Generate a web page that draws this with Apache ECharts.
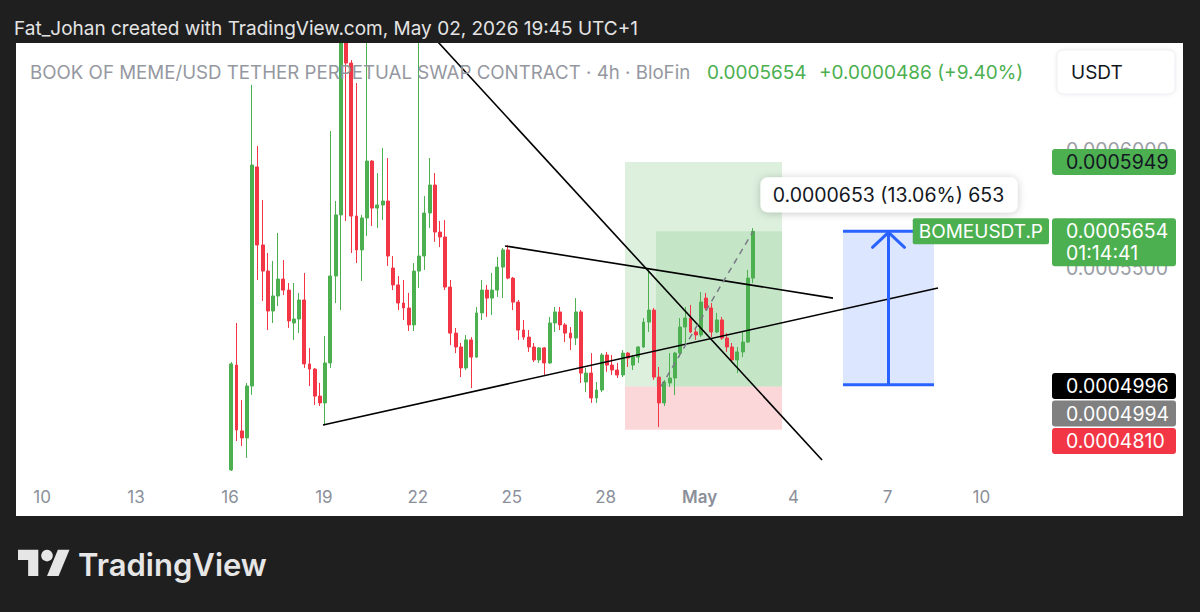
<!DOCTYPE html>
<html>
<head>
<meta charset="utf-8">
<script src="https://cdn.jsdelivr.net/npm/echarts@6/dist/echarts.min.js"></script>
<style>html,body{margin:0;padding:0;background:#1f1f1f;}#c{width:1200px;height:612px;}</style>
</head>
<body>
<div id="c"></div>
<script>
// ===== DATA =====
// x values are "day of April" (May 1 = 31); 4h bars, first bar opens Apr 16 01:00 (UTC+1)
const startDay = 16 + 1 / 24;
const barDays = 1 / 6;
const opens = [4639e-7,5085e-7,4805e-7,4775e-7,4996e-7,5928e-7,5596e-7,5485e-7,5315e-7,5379e-7,
  5451e-7,5404e-7,5264e-7,5281e-7,5362e-7,5090e-7,5068e-7,4953e-7,4924e-7,5094e-7,
  5464e-7,5724e-7,6520e-7,6370e-7,5719e-7,5575e-7,5711e-7,5953e-7,5753e-7,5766e-7,
  5783e-7,5498e-7,5426e-7,5349e-7,5328e-7,5256e-7,5485e-7,5549e-7,5732e-7,5851e-7,
  5651e-7,5630e-7,5417e-7,5221e-7,5162e-7,5073e-7,5192e-7,5119e-7,5307e-7,5404e-7,
  5370e-7,5404e-7,5502e-7,5575e-7,5455e-7,5353e-7,5234e-7,5204e-7,5162e-7,5107e-7,
  5158e-7,5094e-7,5264e-7,5311e-7,5256e-7,5221e-7,5200e-7,5311e-7,5013e-7,5051e-7,
  4945e-7,4979e-7,5128e-7,5085e-7,5064e-7,5043e-7,5136e-7,5085e-7,5119e-7,5162e-7,
  5268e-7,5319e-7,5034e-7,4924e-7,5009e-7,5030e-7,5136e-7,5247e-7,5285e-7,5226e-7,
  5213e-7,5370e-7,5328e-7,5226e-7,5277e-7,5200e-7,5162e-7,5107e-7,5141e-7,5183e-7,
  5455e-7];
const closes = [5090e-7,4809e-7,4775e-7,4996e-7,5936e-7,5596e-7,5485e-7,5315e-7,5379e-7,5451e-7,
  5404e-7,5273e-7,5281e-7,5362e-7,5090e-7,5068e-7,4953e-7,4924e-7,5094e-7,5464e-7,
  5724e-7,6500e-7,6370e-7,5719e-7,5575e-7,5711e-7,5953e-7,5753e-7,5766e-7,5783e-7,
  5549e-7,5426e-7,5349e-7,5328e-7,5256e-7,5485e-7,5549e-7,5732e-7,5851e-7,5651e-7,
  5630e-7,5417e-7,5221e-7,5162e-7,5073e-7,5192e-7,5119e-7,5307e-7,5404e-7,5370e-7,
  5404e-7,5502e-7,5575e-7,5455e-7,5353e-7,5234e-7,5204e-7,5162e-7,5107e-7,5158e-7,
  5094e-7,5264e-7,5311e-7,5256e-7,5221e-7,5200e-7,5311e-7,5051e-7,5051e-7,4945e-7,
  4979e-7,5128e-7,5085e-7,5064e-7,5043e-7,5136e-7,5115e-7,5119e-7,5162e-7,5268e-7,
  5319e-7,5034e-7,4924e-7,5013e-7,5030e-7,5136e-7,5247e-7,5285e-7,5226e-7,5213e-7,
  5353e-7,5328e-7,5226e-7,5277e-7,5200e-7,5162e-7,5107e-7,5141e-7,5183e-7,5455e-7,
  5654e-7];
const lows = [4634e-7,4762e-7,4741e-7,4690e-7,4958e-7,5447e-7,5358e-7,5234e-7,5264e-7,5336e-7,
  5383e-7,5243e-7,5192e-7,5221e-7,5073e-7,4996e-7,4915e-7,4911e-7,4828e-7,5073e-7,
  5349e-7,5319e-7,5698e-7,5562e-7,5519e-7,5443e-7,5634e-7,5677e-7,5668e-7,5702e-7,
  5507e-7,5404e-7,5319e-7,5277e-7,5230e-7,5230e-7,5413e-7,5490e-7,5668e-7,5609e-7,
  5587e-7,5404e-7,5170e-7,5136e-7,5034e-7,5064e-7,4987e-7,5115e-7,5277e-7,5290e-7,
  5298e-7,5375e-7,5370e-7,5450e-7,5319e-7,5192e-7,5192e-7,5141e-7,5098e-7,5094e-7,
  5043e-7,5090e-7,5226e-7,5234e-7,5183e-7,5149e-7,5170e-7,5009e-7,4970e-7,4924e-7,
  4924e-7,4970e-7,5056e-7,5043e-7,5030e-7,5034e-7,5077e-7,5064e-7,5094e-7,5158e-7,
  5226e-7,5022e-7,4822e-7,4911e-7,4992e-7,4958e-7,5119e-7,5179e-7,5221e-7,5192e-7,
  5204e-7,5319e-7,5204e-7,5221e-7,5192e-7,5141e-7,5098e-7,5051e-7,5119e-7,5179e-7,
  5434e-7];
const highs = [5098e-7,5264e-7,4936e-7,5009e-7,6277e-7,6017e-7,5787e-7,5562e-7,5528e-7,5647e-7,
  5532e-7,5434e-7,5434e-7,5392e-7,5477e-7,5158e-7,5073e-7,5009e-7,5209e-7,6081e-7,
  5783e-7,6700e-7,6600e-7,6383e-7,6285e-7,5724e-7,6550e-7,5957e-7,5902e-7,6009e-7,
  5966e-7,5549e-7,5464e-7,5447e-7,5392e-7,5519e-7,6600e-7,5804e-7,5966e-7,5902e-7,
  5698e-7,5702e-7,5447e-7,5243e-7,5179e-7,5213e-7,5204e-7,5332e-7,5447e-7,5426e-7,
  5477e-7,5545e-7,5583e-7,5596e-7,5460e-7,5362e-7,5277e-7,5234e-7,5179e-7,5162e-7,
  5162e-7,5290e-7,5332e-7,5332e-7,5264e-7,5247e-7,5370e-7,5319e-7,5073e-7,5136e-7,
  5013e-7,5136e-7,5141e-7,5128e-7,5094e-7,5149e-7,5141e-7,5128e-7,5166e-7,5285e-7,
  5498e-7,5328e-7,5077e-7,5022e-7,5136e-7,5141e-7,5285e-7,5332e-7,5341e-7,5247e-7,
  5396e-7,5392e-7,5349e-7,5307e-7,5290e-7,5221e-7,5179e-7,5162e-7,5226e-7,5490e-7,
  5668e-7];

// time-axis tick labels
const xTickDays = [10, 13, 16, 19, 22, 25, 28, 31, 34, 37, 40];
const xTickLabels = ['10', '13', '16', '19', '22', '25', '28', 'May', '4', '7', '10'];
// price-axis tick labels
const yTickValues = [0.0005, 0.00055, 0.0006];

// prices
const lastPrice = 0.0005654;
const supportPrice = 0.0004996;
const entryPrice = 0.0004994;
const targetPrice = 0.0005949;
const stopPrice = 0.0004810;
const countdown = '01:14:41';
const symbolName = 'BOMEUSDT.P';
const changeText = '+0.0000486 (+9.40%)';

// drawings: [day, price]
const trendDown = [[22.29, 0.0006511], [34.91, 0.0004681]];
const trendUpper = [[24.785, 0.0005592], [35.26, 0.0005370]];
const trendLower = [[18.972, 0.0004830], [38.614, 0.0005413]];
const projection = [[29.767, 0.0004994], [32.708, 0.0005654]];
// long-position tool time span
const posStart = 28.617, posFill = 29.607, posEnd = 33.632;
// price-range tool
const rangeStart = 35.58, rangeEnd = 38.486;
const rangeLow = 0.0005001, rangeHigh = 0.0005654;

// ===== CHART =====
const FONT = 'Inter, "Noto Sans", "DejaVu Sans", sans-serif';
const GREEN = '#4caf50', RED = '#f23645', BLUE = '#2962ff';

const candleData = opens.map((o, i) => [startDay + i * barDays, o, closes[i], lows[i], highs[i]]);

// zones: [d0, p0, d1, p1]
const zones = [
  [posStart, entryPrice, posEnd, targetPrice],
  [posFill, entryPrice, posEnd, lastPrice],
  [posStart, stopPrice, posEnd, entryPrice],
  [rangeStart, rangeLow, rangeEnd, rangeHigh]
];
const zoneFills = ['rgba(76,175,80,0.19)', 'rgba(76,175,80,0.16)', 'rgba(242,54,69,0.2)', 'rgba(41,98,255,0.16)'];

function lineSeries(pts, style, z) {
  return {type: 'line', data: pts, symbol: 'none', silent: true, clip: true, z: z || 5,
    lineStyle: style, animation: false};
}
const rangeMid = (rangeStart + rangeEnd) / 2;

const option = {
  backgroundColor: '#1f1f1f',
  animation: false,
  grid: {left: 16, right: 150, top: 43, bottom: 130},
  xAxis: {
    type: 'value', min: 9.1664, max: 42.191,
    axisLine: {show: false}, axisTick: {show: false}, splitLine: {show: false},
    axisLabel: {
      customValues: xTickDays, margin: 6, color: '#8b8f99', fontSize: 17, fontFamily: FONT,
      formatter: v => {
        const k = xTickDays.indexOf(Math.round(v));
        const t = k >= 0 ? xTickLabels[k] : '';
        return t === 'May' ? '{m|May}' : t;
      },
      rich: {m: {fontWeight: 600, color: '#8b8f99', fontSize: 17, fontFamily: FONT}}
    }
  },
  yAxis: {
    type: 'value', position: 'right', min: 0.00045876, max: 0.00064553,
    axisLine: {show: false}, axisTick: {show: false}, splitLine: {show: false},
    axisLabel: {customValues: yTickValues, formatter: v => v.toFixed(7), color: '#9a9da5',
      fontSize: 19.5, fontFamily: FONT, margin: 16}
  },
  series: [
    {
      type: 'custom', z: 1, silent: true, clip: true,
      data: zones.map((zz, i) => zz.concat([i])),
      encode: {x: [0, 2], y: [1, 3]},
      renderItem: (params, api) => {
        const a = api.coord([api.value(0), api.value(1)]);
        const b = api.coord([api.value(2), api.value(3)]);
        return {type: 'rect', shape: {x: Math.min(a[0], b[0]), y: Math.min(a[1], b[1]),
          width: Math.abs(b[0] - a[0]), height: Math.abs(b[1] - a[1])},
          style: {fill: zoneFills[api.value(4)]}};
      }
    },
    {
      type: 'candlestick', z: 3, silent: true, barWidth: 3.4, clip: true,
      data: candleData, encode: {x: 0, y: [1, 2, 3, 4]},
      itemStyle: {color: GREEN, color0: RED, borderColor: GREEN, borderColor0: RED, borderWidth: 1},
      markLine: {
        silent: true, symbol: ['none', 'none'], label: {show: false}, animation: false,
        data: [
          {yAxis: supportPrice, lineStyle: {color: '#000', width: 3, type: 'solid'}},
          {yAxis: lastPrice, lineStyle: {color: GREEN, width: 1, type: [1.5, 3]}}
        ]
      }
    },
    lineSeries(trendDown, {color: '#000', width: 1.6}),
    lineSeries(trendUpper, {color: '#000', width: 1.6}),
    lineSeries(trendLower, {color: '#000', width: 1.6}),
    lineSeries(projection, {color: '#787b86', width: 1.5, type: [6, 5]}),
    lineSeries([[rangeStart, rangeHigh], [rangeEnd, rangeHigh]], {color: BLUE, width: 3}, 6),
    lineSeries([[rangeStart, rangeLow], [rangeEnd, rangeLow]], {color: BLUE, width: 3}, 6),
    lineSeries([[rangeMid, rangeLow], [rangeMid, rangeHigh]], {color: BLUE, width: 3}, 6)
  ]
};

const chart = echarts.init(document.getElementById('c'), null, {renderer: 'svg', width: 1200, height: 612});
chart.setOption(option);

const toPx = (d, p) => chart.convertToPixel({gridIndex: 0}, [d, p]);
const yOf = p => toPx(10, p)[1];

const G = [];
// white panel
G.push({type: 'rect', z: -100, silent: true, shape: {x: 16, y: 43, width: 1167, height: 473}, style: {fill: '#ffffff'}});
// dark band above the panel (hides candle parts above the pane)
G.push({type: 'rect', z: 50, silent: true, shape: {x: 0, y: 0, width: 1200, height: 43}, style: {fill: '#1f1f1f'}});
// header
G.push({type: 'text', z: 100, style: {text: 'Fat_Johan created with TradingView.com, May 02, 2026 19:45 UTC+1',
  x: 14, y: 28, fill: '#e4e4e4', font: '19px ' + FONT, verticalAlign: 'middle'}});
// title
G.push({type: 'text', z: 100, style: {text: 'BOOK OF MEME/USD TETHER PERPETUAL SWAP CONTRACT · 4h · BloFin',
  x: 30, y: 72, fill: '#9598a1', font: '18.7px ' + FONT, verticalAlign: 'middle'}});
G.push({type: 'text', z: 100, style: {text: lastPrice.toFixed(7), x: 707, y: 72, fill: GREEN, font: '19px ' + FONT, verticalAlign: 'middle'}});
G.push({type: 'text', z: 100, style: {text: changeText, x: 819, y: 72, fill: GREEN, font: '19px ' + FONT, verticalAlign: 'middle'}});
// currency box
G.push({type: 'rect', z: 100, shape: {x: 1057, y: 50, width: 118, height: 44, r: 6},
  style: {fill: '#fff', stroke: '#eceef2', lineWidth: 1, shadowBlur: 4, shadowColor: 'rgba(0,0,0,0.08)'}});
G.push({type: 'text', z: 101, style: {text: 'USDT', x: 1071, y: 72, fill: '#131722', font: '19px ' + FONT, verticalAlign: 'middle'}});

// price tags at right with collision avoidance
const tagPrices = [targetPrice, lastPrice, supportPrice, entryPrice, stopPrice];
const tagLines = [[targetPrice.toFixed(7)], [lastPrice.toFixed(7), countdown], [supportPrice.toFixed(7)], [entryPrice.toFixed(7)], [stopPrice.toFixed(7)]];
const tagBg = [GREEN, GREEN, '#000000', '#808080', RED];
const tagFg = ['#131722', '#ffffff', '#ffffff', '#ffffff', '#ffffff'];
let prevBottom = -1e9;
tagPrices.map((p, i) => ({i, y: yOf(p)})).sort((a, b) => a.y - b.y).forEach(t => {
  const lines = tagLines[t.i];
  const h = 26 + (lines.length - 1) * 22;
  let top = Math.max(t.y - 13, prevBottom + 1.5);
  prevBottom = top + h;
  G.push({type: 'rect', z: 110, shape: {x: 1052, y: top, width: 124, height: h, r: 3}, style: {fill: tagBg[t.i]}});
  G.push({type: 'text', z: 111, style: {text: lines.join('\n'), x: 1066, y: top + 2.2, fill: tagFg[t.i],
    font: '19.5px ' + FONT, lineHeight: 21.6, verticalAlign: 'top'}});
});
// symbol label
const yLast = yOf(lastPrice);
G.push({type: 'text', z: 110, style: {text: symbolName, x: 1049, y: yLast, align: 'right', verticalAlign: 'middle',
  fill: '#fff', font: '19px ' + FONT, backgroundColor: GREEN, padding: [4, 6, 3, 6], borderRadius: 2}});

// range tool arrowhead + label
const topMid = toPx(rangeMid, rangeHigh);
G.push({type: 'polyline', z: 60, shape: {points: [[topMid[0] - 16, topMid[1] + 16], [topMid[0], topMid[1] + 1], [topMid[0] + 16, topMid[1] + 16]]},
  style: {stroke: BLUE, lineWidth: 3, fill: null, lineCap: 'round'}});
const diff = rangeHigh - rangeLow;
const rangeText = diff.toFixed(7) + ' (' + (diff / rangeLow * 100).toFixed(2) + '%) ' + Math.round(diff / 1e-7);
G.push({type: 'rect', z: 70, shape: {x: topMid[0] - 128, y: topMid[1] - 54, width: 257, height: 35, r: 7},
  style: {fill: '#fff', shadowBlur: 8, shadowColor: 'rgba(0,0,0,0.22)', shadowOffsetY: 1}});
G.push({type: 'text', z: 71, style: {text: rangeText, x: topMid[0], y: topMid[1] - 36.5, align: 'center', verticalAlign: 'middle',
  fill: '#131722', font: '19.5px ' + FONT}});

// TradingView logo
const LX = 18, LY = 544, LS = 1.45;
const tf = pts => pts.map(p => [LX + p[0] * LS, LY + p[1] * LS]);
G.push({type: 'polygon', z: 100, shape: {points: tf([[14, 22], [7, 22], [7, 11], [0, 11], [0, 4], [14, 4]])}, style: {fill: '#e6e6e6'}});
G.push({type: 'polygon', z: 100, shape: {points: tf([[28, 22], [20, 22], [27.5, 4], [35.5, 4]])}, style: {fill: '#e6e6e6'}});
G.push({type: 'circle', z: 100, shape: {cx: LX + 20 * LS, cy: LY + 8 * LS, r: 4 * LS}, style: {fill: '#e6e6e6'}});
G.push({type: 'text', z: 100, style: {text: 'TradingView', x: 78, y: 564, fill: '#e6e6e6', font: '600 31px ' + FONT, verticalAlign: 'middle'}});

chart.setOption({graphic: {elements: G}});
</script>
</body>
</html>
